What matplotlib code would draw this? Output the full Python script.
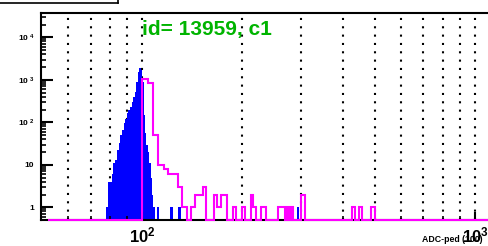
import numpy as np
import matplotlib.pyplot as plt
from matplotlib.lines import Line2D
from matplotlib.ticker import NullFormatter

plt.rcParams['font.family'] = ['Liberation Sans', 'DejaVu Sans']
plt.rcParams['mathtext.fontset'] = 'custom'
plt.rcParams['mathtext.rm'] = 'Liberation Sans:bold'
plt.rcParams['mathtext.bf'] = 'Liberation Sans:bold'
plt.rcParams['mathtext.it'] = 'Liberation Sans:bold'

# blue histogram: unit bins starting at ADC 78
blue_start = 78
blue_counts = [1, 4, 4, 6, 11, 13, 22, 32, 50, 66,
               96, 119, 165, 190, 227, 300, 390, 510, 900, 1500,
               1900, 1700, 900, 150, 55, 30, 20, 11, 5, 2, 1]
# isolated blue entries (bin edges, counts)
blue_tail_lo = [110.5, 121.5, 128.5, 292.5]
blue_tail_hi = [112.5, 123.5, 130.5, 295.5]
blue_tail_counts = [1, 1, 1, 1]

# magenta histogram: 4-wide bins from ADC 52, non-empty bins only
mag_start = 52
mag_width = 4
mag_bin = [100, 104, 108, 112, 116, 120, 124, 128, 132, 140, 144, 148, 152,
           164, 168, 172, 176, 188, 200, 212, 216, 228, 232, 256, 260, 264,
           272, 280, 300, 304, 428, 432, 448, 452, 488, 492, 496]
mag_counts = [1050, 840, 50, 10, 8, 6, 6, 3, 1, 1, 2, 2, 3,
              2, 1, 2, 2, 1, 1, 2, 1, 1, 1, 1, 1, 1,
              1, 1, 2, 2, 1, 1, 1, 1, 1, 1, 1]

grid_x = [60, 70, 80, 90, 100, 200, 300, 400, 500, 600, 700, 800, 900, 1000]
xminor = [60, 70, 80, 90, 200, 300, 400, 500, 600, 700, 800, 900]

W, H = 489, 246
fig = plt.figure(figsize=(W / 100, H / 100), dpi=100)
ax = fig.add_axes([41 / W, (H - 220) / H, (530 - 41) / W, (220 - 13) / H])
ax.set_xscale('log')
ax.set_yscale('log')
ylo, yhi = 0.503, 37300
ax.set_xlim(49.7, 1462)
ax.set_ylim(ylo, yhi)

# dotted vertical grid
for gx in grid_x:
    ax.axvline(gx, color='k', lw=1.5, linestyle=(0, (1, 3)), zorder=0.5)

# blue filled histogram
edges = np.arange(blue_start, blue_start + len(blue_counts) + 1)
ax.stairs(blue_counts, edges, fill=True, color='#0000ff', baseline=ylo, zorder=1)
for lo, hi, c in zip(blue_tail_lo, blue_tail_hi, blue_tail_counts):
    ax.stairs([c], [lo, hi], fill=True, color='#0000ff', baseline=ylo, zorder=1)

# magenta outline histogram, empty bins sit on the frame bottom
medges = np.arange(mag_start, 1600 + mag_width, mag_width)
mvals = np.zeros(len(medges) - 1)
for b, c in zip(mag_bin, mag_counts):
    mvals[(b - mag_start) // mag_width] = c
ax.stairs(np.maximum(mvals, ylo), medges, baseline=None, color='#ff00ff',
          lw=1.5, zorder=3, clip_on=False)

# axes styling
for s in ['left', 'top', 'bottom']:
    ax.spines[s].set_linewidth(1.5)
ax.spines['right'].set_visible(False)

ax.set_xticks([100, 1000])
ax.set_xticklabels([r'$10^{2}$', r'$10^{3}$'], fontsize=12)
ax.set_xticks(xminor, minor=True)
ax.xaxis.set_minor_formatter(NullFormatter())
ax.tick_params(axis='x', which='major', direction='in', length=6, width=1.5, pad=4)
ax.tick_params(axis='x', which='minor', direction='in', length=3, width=1.2)

ax.set_yticks([1, 10, 100, 1000, 10000])
ax.set_yticklabels(['1', '10', r'$10^{\ 2}\ \ $', r'$10^{\ 3}\ \ $', r'$10^{\ 4}\ \ $'],
                   fontsize=6, fontweight='bold')
ax.set_yticks([m * 10 ** e for e in range(-1, 5) for m in range(2, 10)
               if ylo < m * 10 ** e < yhi], minor=True)
ax.yaxis.set_minor_formatter(NullFormatter())
ax.tick_params(axis='y', which='major', direction='in', length=8.6, width=1.5, pad=5)
ax.tick_params(axis='y', which='minor', direction='in', length=3.6, width=1.2)

fig.text(142 / W, 1 - 35 / H, 'id= 13959, c1', color='#00b400', fontsize=15,
         fontweight='bold', va='baseline')
fig.text(422 / W, 1 - 241.5 / H, 'ADC-ped (100)', fontsize=6.3,
         fontweight='bold', va='baseline')

# bottom of a box cut off at the top-left corner
fig.add_artist(Line2D([0, 118 / W], [1 - 2.5 / H, 1 - 2.5 / H], color='k', lw=1.2))
fig.add_artist(Line2D([118 / W, 118 / W], [1, 1 - 2.5 / H], color='k', lw=1.2))

fig.savefig('out.png', dpi=100)
